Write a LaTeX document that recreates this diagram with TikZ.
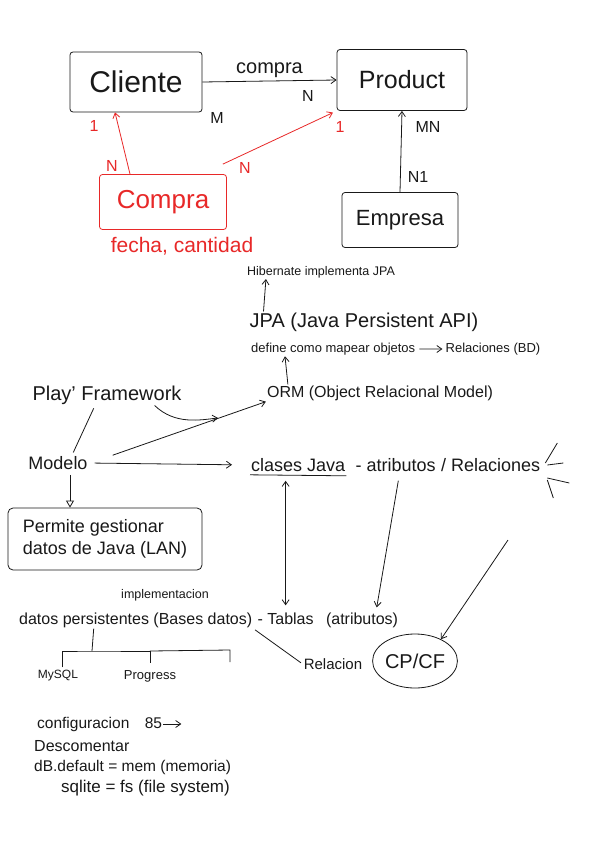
\documentclass[tikz,border=0pt]{standalone}
\usepackage{fontspec}
\setmainfont{Liberation Sans}
\usepackage{xcolor}
\usetikzlibrary{arrows.meta,shapes.geometric,positioning,calc}
\definecolor{penred}{RGB}{232,40,40}
\definecolor{penblack}{RGB}{25,25,25}

\begin{document}
\begin{tikzpicture}[
    x=1pt,y=-1pt,
    node distance=6pt,
    hand/.style={font=\fontsize{#1}{#1}\selectfont,text=penblack,inner sep=1pt},
    entity/.style={rectangle,draw=penblack,thick,rounded corners=3pt,hand=#1,inner sep=3pt},
    card/.style={hand=16},
    arrow/.style={-{Straight Barb[length=5pt,width=7pt]},thick,penblack},
    redarrow/.style={-{Straight Barb[length=5pt,width=7pt]},thick,penred},
    line/.style={thick,penblack}
]
\useasboundingbox (0,0) rectangle (600,848);
\fill[white] (0,0) rectangle (600,848);

% entidades
\node[entity=30,minimum width=132pt,minimum height=60pt] (cliente) at (136,82) {Cliente};
\node[entity=25,minimum width=130pt,minimum height=61pt] (product) at (402,80) {Product};
\node[entity=22,minimum width=116pt,minimum height=55pt] (empresa) at (400,220) {Empresa};
\node[entity=26,draw=penred,text=penred,minimum width=127pt,minimum height=55pt] (compra) at (163,202) {Compra};
\node[hand=21,text=penred] (attrs) at (182,246) {fecha, cantidad};

\draw[arrow] (cliente.east) -- node[hand=20,above=2pt] {compra} (product.west);
\node[card] at (217,118) {M};
\node[card] at (308,96) {N};
\node[card] at (428,127) {MN};
\node[card] at (418,177) {N1};
\draw[arrow] (empresa.north) -- (product.south);

\draw[redarrow] ([xshift=-33pt]compra.north) -- ([xshift=-21pt]cliente.south);
\draw[redarrow,shorten >=4pt] ([xshift=-4pt,yshift=10pt]compra.north east) -- (product.south west);
\node[card,text=penred] at (94,126) {1};
\node[card,text=penred] at (112,166) {N};
\node[card,text=penred] at (245,168) {N};
\node[card,text=penred] at (340,127) {1};

% JPA / ORM
\node[hand=12.5] (hibernate) at (321,272) {Hibernate implementa JPA};
\node[hand=20] (jpa) at (364,322) {JPA (Java Persistent API)};
\node[hand=13,anchor=west] (define) at (250,349) {define como mapear objetos};
\node[hand=13,base right=28pt of define] (relbd) {Relaciones (BD)};
\node[hand=16] (orm) at (380,393) {ORM (Object Relacional Model)};
\draw[arrow] ([xshift=15pt]jpa.north west) -- ([xshift=20pt]hibernate.south west);
\draw[arrow,shorten <=3pt,shorten >=2pt] (define) -- (relbd);
\draw[arrow] ([xshift=22pt]orm.north west) -- ([xshift=35pt]define.south west);

% Play Framework
\node[hand=20] (play) at (107,395) {Play' Framework};
\node[hand=18] (modelo) at (58,463) {Modelo};
\coordinate (playend) at (218,418);
\draw[line,shorten <=3pt,shorten >=3pt] ([xshift=-12pt]play.south) -- ([xshift=14pt]modelo.north);
\draw[arrow] ([xshift=-28pt]play.south east) .. controls (175,425) and (200,420) .. (playend);
\draw[arrow] ([xshift=24pt]modelo.north east) -- (orm.south west);

\node[hand=18,anchor=west] (clases) at (250,465) {clases Java};
\node[hand=18,base right=8pt of clases] (atrib) {- atributos};
\node[hand=18,base right=3pt of atrib] (relac) {/ Relaciones};
\draw[line] ([yshift=-2pt]clases.south west) -- ([yshift=-3pt]clases.south east);
\draw[arrow,shorten <=6pt,shorten >=18pt] (modelo.east) -- (clases.west);
\draw[line] ($(relac.east)+(16,-22)$) -- ($(relac.east)+(4,-2)$);
\draw[line] ($(relac.east)+(6,0)$) -- ($(relac.east)+(22,-2)$);
\draw[line] ($(relac.east)+(6,13)$) -- ($(relac.east)+(28,18)$);
\draw[line] ($(relac.east)+(6,15)$) -- ($(relac.east)+(12,33)$);

\node[rectangle,draw=penblack,thick,rounded corners=5pt,minimum width=194pt,minimum height=62pt,
      hand=18,align=left,inner sep=4pt] (permite) at (105,539) {Permite gestionar\\[4pt]datos de Java (LAN)};
\draw[thick,penblack,-{Triangle[open,length=7pt,width=8pt]}] (modelo.south) ++(12,4) -- ([xshift=-35pt]permite.north);

% persistencia
\node[hand=12.5] (impl) at (165,595) {implementacion};
\node[hand=16,anchor=west] (datos) at (18,620) {datos persistentes (Bases datos)};
\node[hand=16,base right=3pt of datos] (tablas) {- Tablas};
\node[hand=16,base right=10pt of tablas] (atributos) {(atributos)};
\draw[thick,penblack,{Straight Barb[length=5pt,width=7pt]}-{Straight Barb[length=5pt,width=7pt]},shorten <=8pt,shorten >=6pt]
    (clases.south east -| tablas.north) -- (tablas.north);
\draw[arrow,shorten <=8pt,shorten >=4pt] ([xshift=4pt]atrib.south) -- ([xshift=14pt]atributos.north);

\node[hand=15] (relacion) at (333,664) {Relacion};
\node[ellipse,draw=penblack,thick,hand=20,inner sep=0pt,minimum width=82pt,minimum height=54pt] (cpcf) at (415,661) {CP/CF};
\draw[line,shorten <=2pt,shorten >=2pt] (datos.south east) -- (relacion.west);
\coordinate (relacstart) at (508,540);
\draw[arrow] (relacstart) -- (cpcf.40);

\node[hand=12] (mysql) at (58,676) {MySQL};
\node[hand=13] (progress) at (150,676) {Progress};
\coordinate (stem) at (92,651);
\draw[line] ([xshift=-42pt]datos.south) -- (stem);
\draw[line] (mysql.north) ++(4,-2) |- (stem) -- (stem -| progress.north) -- ++(0,12);
\draw[line] (stem -| progress.north) -- ++(80,-1) -- ++(0,12);

% configuracion
\node[hand=15.5,anchor=west] (conf) at (36,724) {configuracion\quad 85};
\coordinate[right=18pt of conf] (confend);
\draw[arrow] (conf.east) -- (confend);
\node[hand=16,anchor=west] (descom) at (33,746) {Descomentar};
\node[hand=15.5,anchor=west] (dbdef) at (33,767) {dB.default = mem (memoria)};
\node[hand=17,anchor=west] (sqlite) at (60,788) {sqlite = fs (file system)};
\end{tikzpicture}
\end{document}
